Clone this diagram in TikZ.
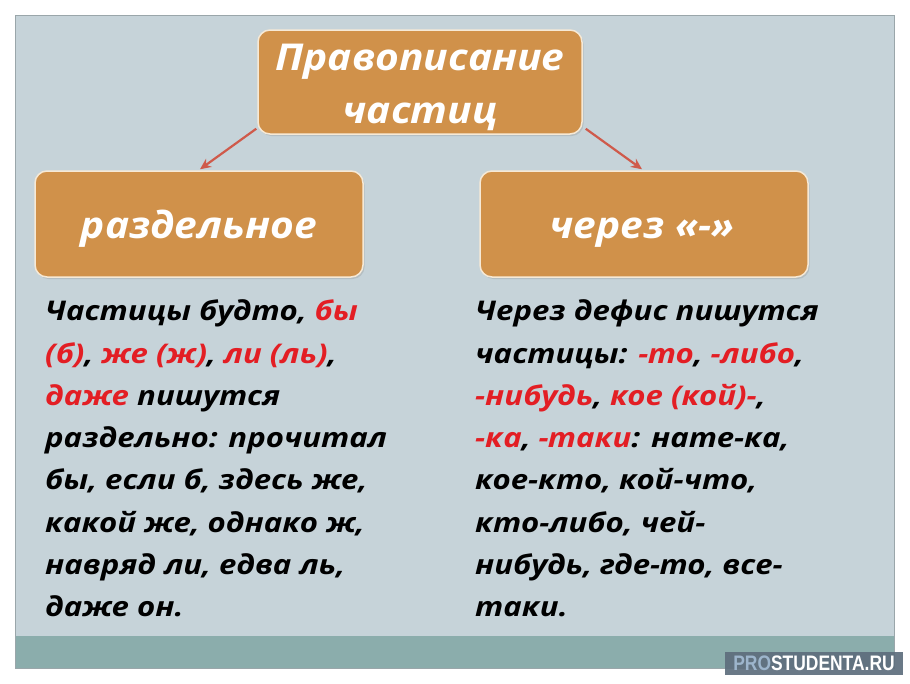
\documentclass[tikz,border=0pt]{standalone}
\usepackage{fontspec}
\setmainfont{Open Sans}
\newfontfamily\bodyfont[FakeStretch=1.15]{Open Sans}
\newfontfamily\headfont[FakeStretch=1.10]{Open Sans}
\newfontfamily\wmfont{Liberation Sans}
\usetikzlibrary{arrows.meta,shadows}
\definecolor{panelfill}{HTML}{C6D3D9}
\definecolor{panelline}{HTML}{9AA6AA}
\definecolor{bandfill}{HTML}{8BADAC}
\definecolor{boxfill}{HTML}{D0914A}
\definecolor{boxline}{HTML}{F6E9D6}
\definecolor{arrowred}{HTML}{CF5A4B}
\definecolor{hl}{HTML}{E31E24}
\definecolor{wmfill}{HTML}{5E6E7D}
\definecolor{wmpro}{HTML}{9DB5CC}
\newcommand{\hr}[1]{\textcolor{hl}{#1}}
\begin{document}
\begin{tikzpicture}[x=1pt,y=-1pt,
  hbox/.style={rectangle, rounded corners=12pt, fill=boxfill, draw=boxline, line width=1.5pt,
    drop shadow={shadow xshift=1.5pt, shadow yshift=-2pt, opacity=0.25}, inner sep=0pt},
  htext/.style={text=white, font=\headfont\fontsize{37}{44}\selectfont\bfseries\itshape, inner sep=0pt, anchor=base},
  btext/.style={font=\bodyfont\fontsize{27.1}{32}\selectfont\bfseries\itshape, inner sep=0pt, anchor=base west},
  arr/.style={draw=arrowred, line width=2.2pt, -{Stealth[length=11pt,width=10pt]}}]
\useasboundingbox (0,0) rectangle (910,683);
\fill[white] (0,0) rectangle (910,683);
\draw[panelline, fill=panelfill, line width=1pt] (15,15) rectangle (894,668);
\fill[bandfill] (15.5,636) rectangle (893.5,667.5);
% boxes
\node[hbox, minimum width=324pt, minimum height=104pt] (top) at (420,82) {};
\node[hbox, minimum width=328pt, minimum height=106pt] (left) at (199,224) {};
\node[hbox, minimum width=328pt, minimum height=106pt] (right) at (644,224) {};
\node[htext] (t1) at (420,70) {Правописание};
\node[htext] (t2) at (420,123) {частиц};
\node[htext] (lt) at (199,238) {раздельное};
\node[htext] (rt) at (642,238) {через «-»};
% arrows
\draw[arr] ([xshift=-1pt,yshift=6pt]top.south west) -- ([xshift=1pt,yshift=1pt]left.north);
\draw[arr] ([xshift=3pt,yshift=6pt]top.south east) -- ([xshift=-2pt,yshift=1pt]right.north);
% left text
\node[btext] (l1) at (45,320.7) {Частицы будто, \hr{бы}};
\node[btext] (l2) at (45,363) {\hr{(б)}, \hr{же (ж)}, \hr{ли (ль)},};
\node[btext] (l3) at (45,405.3) {\hr{даже} пишутся};
\node[btext] (l4) at (45,447.6) {раздельно: прочитал};
\node[btext] (l5) at (45,489.9) {бы, если б, здесь же,};
\node[btext] (l6) at (45,532.2) {какой же, однако ж,};
\node[btext] (l7) at (45,574.5) {навряд ли, едва ль,};
\node[btext] (l8) at (45,616.8) {даже он.};
% right text
\node[btext] (r1) at (475,320.7) {Через дефис пишутся};
\node[btext] (r2) at (475,363) {частицы: \hr{-то}, \hr{-либо},};
\node[btext] (r3) at (475,405.3) {\hr{-нибудь}, \hr{кое (кой)-},};
\node[btext] (r4) at (475,447.6) {\hr{-ка}, \hr{-таки}: нате-ка,};
\node[btext] (r5) at (475,489.9) {кое-кто, кой-что,};
\node[btext] (r6) at (475,532.2) {кто-либо, чей-};
\node[btext] (r7) at (475,574.5) {нибудь, где-то, все-};
\node[btext] (r8) at (475,616.8) {таки.};
% watermark
\node[fill=wmfill, fill opacity=0.92, text opacity=1, minimum width=178pt, minimum height=23pt, inner sep=0pt] (wm) at (814,663.5)
  {\scalebox{0.83}[1]{\wmfont\fontsize{21}{24}\selectfont\bfseries\textcolor{wmpro}{PRO}\textcolor{white}{STUDENTA.RU}}};
\end{tikzpicture}
\end{document}
